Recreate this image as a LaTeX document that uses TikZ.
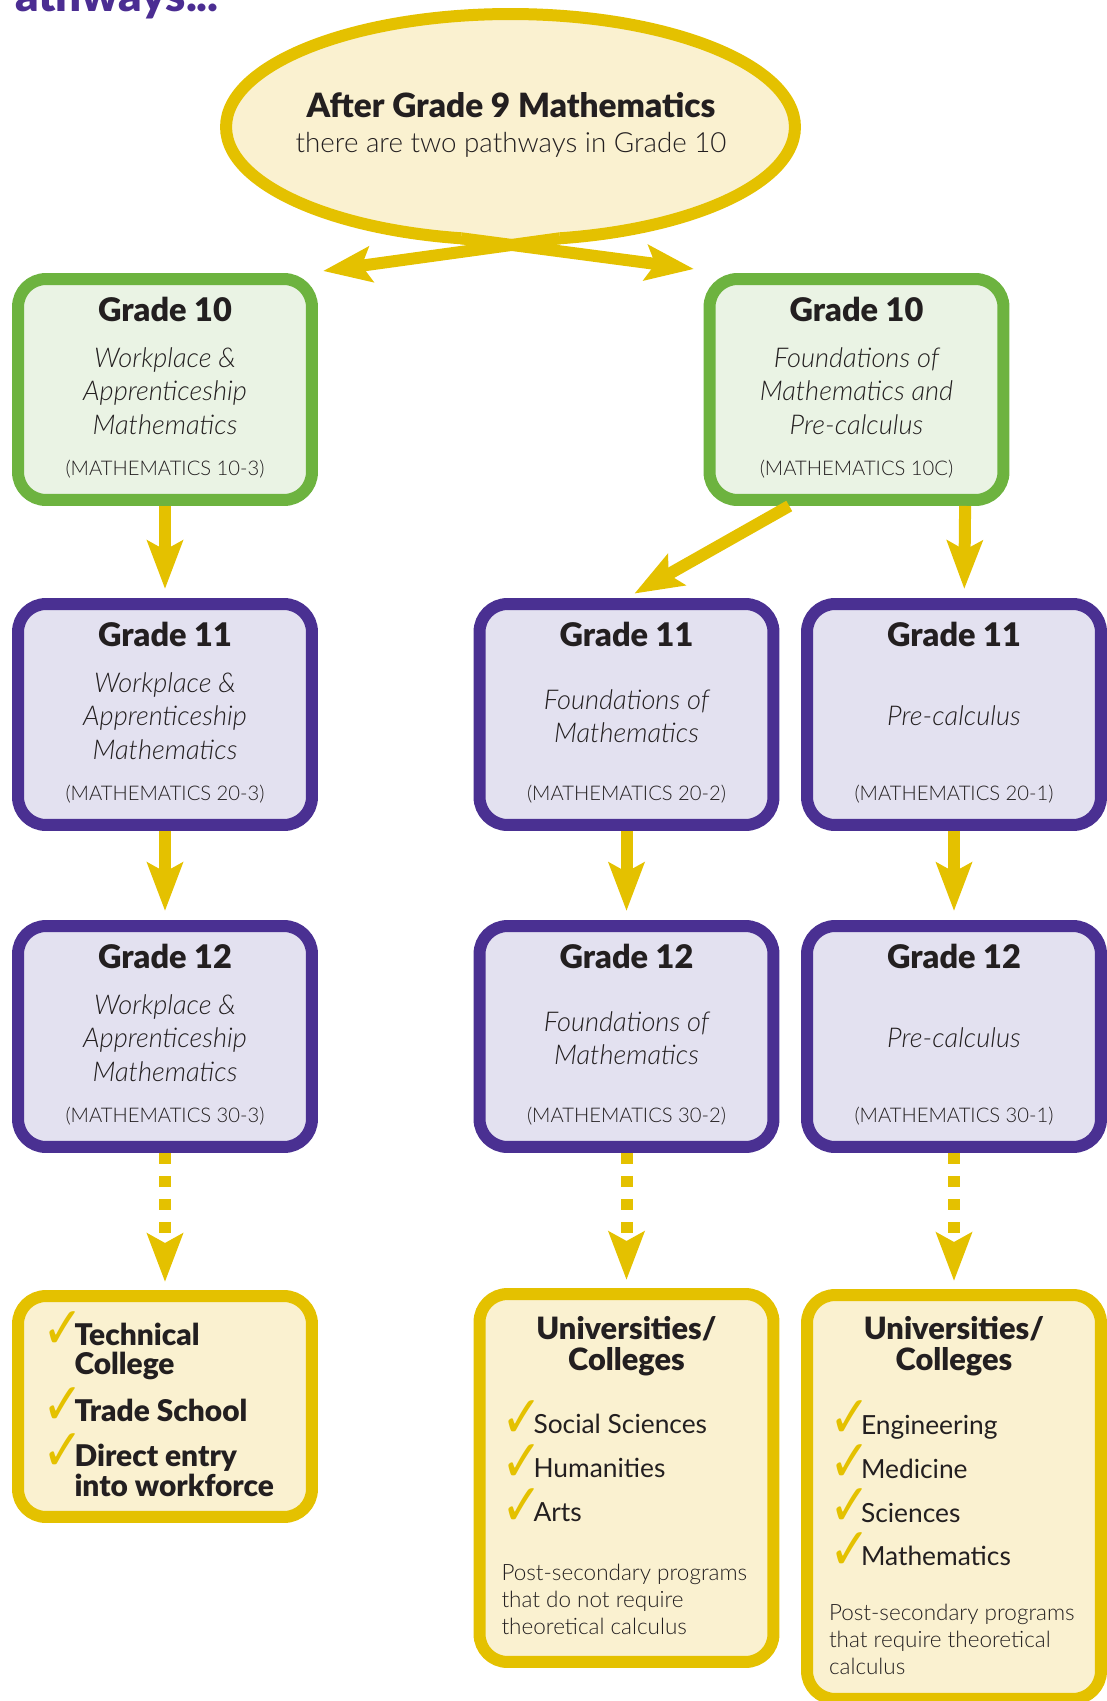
\documentclass[tikz,border=0pt]{standalone}
\usepackage{fontspec}
\usepackage{graphicx}
\usepackage{xcolor}
\usepackage{tikz}
\usetikzlibrary{arrows.meta,shapes.geometric}

\setmainfont{Lato}[BoldFont={Lato Black}, ItalicFont={Lato Light Italic}]
\newfontfamily\lightfont{Lato Light}
\newfontfamily\checkfont{DejaVu Sans}

\definecolor{ymain}{HTML}{E4C100}
\definecolor{yfill}{HTML}{FAF1D0}
\definecolor{gline}{HTML}{6DB33F}
\definecolor{gfill}{HTML}{EAF3E4}
\definecolor{pline}{HTML}{4A3092}
\definecolor{pfill}{HTML}{E3E1F0}
\definecolor{ink}{HTML}{231F20}
\definecolor{ptitle}{HTML}{4B2D92}

\newcommand{\headfont}{\fontsize{18.5}{20}\selectfont\bfseries}
\newcommand{\crsfont}{\fontsize{15.5}{19}\selectfont\itshape}
\newcommand{\codefont}{\fontsize{11.5}{13}\selectfont\lightfont}
\newcommand{\itemfont}{\fontsize{15}{25}\selectfont}
\newcommand{\notefont}{\fontsize{12.8}{15.3}\selectfont\lightfont}
\newcommand{\tick}{\makebox[0.64cm][l]{\smash{\raisebox{-2pt}{\textcolor{ymain}{\checkfont\bfseries\fontsize{28}{28}\selectfont\scalebox{1}[1.19]{✓}}}}}}
\newcommand{\notick}{\hspace*{0.64cm}}
\newcommand{\course}[3]{\parbox[c][3.53cm][t]{5.6cm}{\vspace*{-2.4pt}\centering{\headfont #1\par}\vfill{\crsfont #2\par}\vfill\vspace{3pt}{\codefont #3\par}}}

\tikzset{
	box/.style={rectangle, rounded corners=0.56cm, line width=0.24cm, inner sep=0pt, text=ink,
		minimum width=5.88cm, minimum height=4.42cm},
	gbox/.style={box, draw=gline, fill=gfill},
	pbox/.style={box, draw=pline, fill=pfill},
	ybox/.style={box, draw=ymain, fill=yfill},
	bubble/.style={ellipse, draw=ymain, fill=yfill, line width=0.24cm, inner sep=0pt, outer sep=0pt,
		minimum width=11.38cm, minimum height=4.52cm},
	arr/.style={draw=ymain, line width=0.24cm, -{Stealth[length=0.96cm,width=0.7cm,inset=0.18cm]}},
	darr/.style={arr, dash pattern=on 0.22cm off 0.24cm},
}

\begin{document}
\begin{tikzpicture}[x=0.02cm, y=-0.02cm]
				\useasboundingbox (0,0) rectangle (1106,1701);
				
				% title, cut by the page edge
				\begin{scope}
					\clip (0,0) rectangle (1106,1701);
					\node[anchor=base east, inner sep=0pt, text=ptitle, font=\fontsize{26}{26}\selectfont\bfseries] (ttl) at (219,11) {Pathways...};
				\end{scope}
				
				% start bubble
				\node[bubble] (start) at (510.5,127) {};
				\node[align=center, text=ink, font=\fontsize{15.8}{19.8}\selectfont\lightfont] (starttxt) at (511,125)
					{{\fontsize{19}{19.8}\selectfont\normalfont\bfseries After Grade 9 Mathematics}\\there are two pathways in Grade 10};
				
				% grade 10
				\node[gbox] (g10a) at (165,389.5) {\course{Grade 10}{Workplace \&\\Apprenticeship\\Mathematics}{(MATHEMATICS 10-3)}};
				\node[gbox] (g10b) at (856.5,389.5) {\course{Grade 10}{Foundations of\\Mathematics and\\Pre-calculus}{(MATHEMATICS 10C)}};
				
				% grade 11
				\node[pbox] (g11a) at (165,714.5) {\course{Grade 11}{Workplace \&\\Apprenticeship\\Mathematics}{(MATHEMATICS 20-3)}};
				\node[pbox] (g11b) at (626.5,714.5) {\course{Grade 11}{Foundations of\\Mathematics}{(MATHEMATICS 20-2)}};
				\node[pbox] (g11c) at (954,714.5) {\course{Grade 11}{Pre-calculus}{(MATHEMATICS 20-1)}};
				
				% grade 12
				\node[pbox] (g12a) at (165,1036.5) {\course{Grade 12}{Workplace \&\\Apprenticeship\\Mathematics}{(MATHEMATICS 30-3)}};
				\node[pbox] (g12b) at (626.5,1036.5) {\course{Grade 12}{Foundations of\\Mathematics}{(MATHEMATICS 30-2)}};
				\node[pbox] (g12c) at (954,1036.5) {\course{Grade 12}{Pre-calculus}{(MATHEMATICS 30-1)}};
				
				% after grade 12
				\node[ybox] (enda) at (165,1406.5) {\parbox[c][3.7cm][t]{4.9cm}{\raggedright\fontsize{17}{16.9}\selectfont\bfseries
					\vspace*{5pt}
					\tick Technical\\ \notick College\\[9.5pt]
					\tick Trade School\\[9pt]
					\tick Direct entry\\ \notick into workforce\par}};
				\node[ybox, minimum height=7.36cm] (endb) at (626.5,1478) {\parbox[c][6.47cm][t]{5cm}{\raggedright
					{\centering\fontsize{17.5}{17.8}\selectfont\bfseries Universities/\\Colleges\par}
					\vspace{11pt}
					{\itemfont\tick Social Sciences\\\tick Humanities\\\tick Arts\par}
					\vspace{18pt}
					{\notefont Post-secondary programs\\that do not require\\theoretical calculus\par}}};
				\node[ybox, minimum height=8.08cm] (endc) at (954,1497) {\parbox[c][7.22cm][t]{5cm}{\raggedright
					{\centering\fontsize{17.5}{17.8}\selectfont\bfseries Universities/\\Colleges\par}
					\vspace{11pt}
					{\itemfont\tick Engineering\\\tick Medicine\\\tick Sciences\\\tick Mathematics\par}
					\vspace{16pt}
					{\notefont Post-secondary programs\\that require theoretical\\calculus\par}}};
				
				% the two pathways, crossing under the bubble
				\coordinate (tipa) at (323,271);
				\coordinate (tipb) at (694,269);
				\coordinate (pinch) at (510.5,249);
				\fill[yfill] (462,231) -- (559,231) -- (start.294) -- (pinch) -- (start.246) -- cycle;
				\draw[arr] (start.294) -- (tipa);
				\draw[arr] (start.246) -- (tipb);
				
				\draw[arr, shorten >=0.18cm] (g10b.240) -- (g11b.north);
				\draw[arr, shorten >=0.18cm] (g10b.313) -- (g11c.85);
				\foreach \x/\y in
				{g10a/g11a, g11a/g12a, g11b/g12b, g11c/g12c}{
					\draw[arr, shorten >=0.18cm] (\x) -- (\y);
				}
				\foreach \x/\y in
				{g12a/enda, g12b/endb, g12c/endc}{
					\draw[darr, shorten >=0.16cm] (\x) -- (\y);
				}
			\end{tikzpicture}
\end{document}
